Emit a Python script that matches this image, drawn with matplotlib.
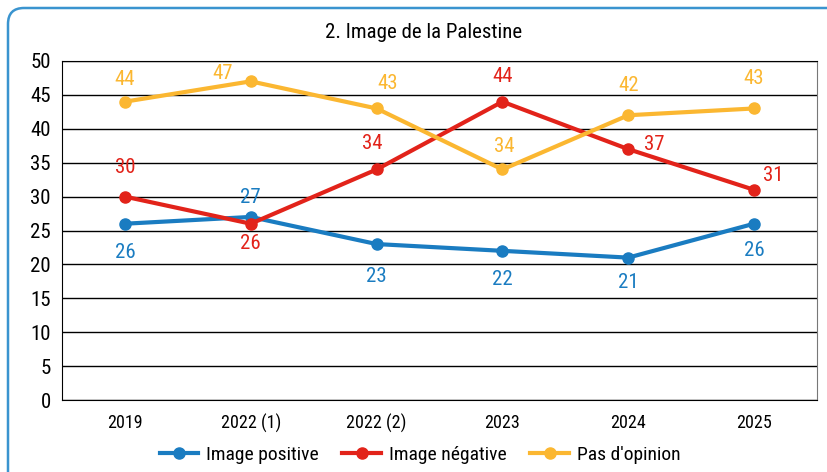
import matplotlib
matplotlib.use("Agg")
import matplotlib.pyplot as plt
from matplotlib.patches import FancyBboxPatch
from matplotlib import font_manager

categories = ["2019", "2022 (1)", "2022 (2)", "2023", "2024", "2025"]
positive = [26, 27, 23, 22, 21, 26]
negative = [30, 26, 34, 44, 37, 31]
no_opinion = [44, 47, 43, 34, 42, 43]

names = set(f.name for f in font_manager.fontManager.ttflist)
fam = "DejaVu Sans"
for c in ["Roboto Condensed", "Arial Narrow", "Liberation Sans Narrow", "Archivo Narrow", "Asap Condensed", "Barlow Semi Condensed"]:
    if c in names:
        fam = c
        break
plt.rcParams['font.family'] = [fam, 'DejaVu Sans']

BLUE = "#1a7cc1"
RED = "#e2231a"
YEL = "#fbb731"

fig = plt.figure(figsize=(8.28, 4.72), dpi=100)
W, H = 828, 472
# frame (rounded, running off the right and bottom edges)
frame = FancyBboxPatch((8, -40), 900, (H - 8) + 40,
                       boxstyle="round,pad=0,rounding_size=16",
                       transform=None, fill=False,
                       edgecolor="#3a94cf", linewidth=1.8)
fig.patches.append(frame)

ax = fig.add_axes([62 / W, (H - 400) / H, (817 - 62) / W, (400 - 61) / H])
x = list(range(len(categories)))

ax.plot(x, positive, color=BLUE, lw=3, marker="o", ms=8, label="Image positive", zorder=3)
ax.plot(x, negative, color=RED, lw=3, marker="o", ms=8, label="Image négative", zorder=3)
ax.plot(x, no_opinion, color=YEL, lw=3, marker="o", ms=8, label="Pas d'opinion", zorder=3)

ax.set_xlim(-0.5, 5.5)
ax.set_ylim(0, 50)
ax.set_yticks(range(0, 51, 5))
ax.set_xticks(x)
ax.set_xticklabels(categories, fontsize=13)
ax.tick_params(axis="y", labelsize=15, length=0, pad=8)
ax.tick_params(axis="x", length=0, pad=10)
ax.yaxis.grid(True, color="black", lw=1)
ax.set_axisbelow(True)
for s in ["left", "bottom", "top"]:
    ax.spines[s].set_color("black")
ax.spines["right"].set_color("#777777")

def px(v):
    return v * 72 / 100

# label offsets in pixels (dx, dy up positive)
off_pos = [(0, -29), (0, 19), (0, -32), (0, -29), (0, -25), (0, -27)]
off_neg = [(0, 29), (0, -20), (-4, 26), (0, 25), (26, 5), (19, 14)]
off_yel = [(0, 22), (-28, 8), (11, 25), (2, 23), (0, 30), (0, 30)]

for vals, offs, col in [(positive, off_pos, BLUE), (negative, off_neg, RED), (no_opinion, off_yel, YEL)]:
    for i, (v, o) in enumerate(zip(vals, offs)):
        ax.annotate(str(v), (i, v), xytext=(px(o[0]), px(o[1])), textcoords="offset points",
                    ha="center", va="center", fontsize=15, color=col)

fig.text(424 / W, 1 - 33 / H, "2. Image de la Palestine", ha="center", va="center", fontsize=15)

leg = fig.legend(loc="center", bbox_to_anchor=(420 / W, 1 - 455 / H), ncol=3, frameon=False,
                 fontsize=14, handlelength=2.0, handletextpad=0.4, columnspacing=1.2)

fig.savefig("out.png", dpi=100)
